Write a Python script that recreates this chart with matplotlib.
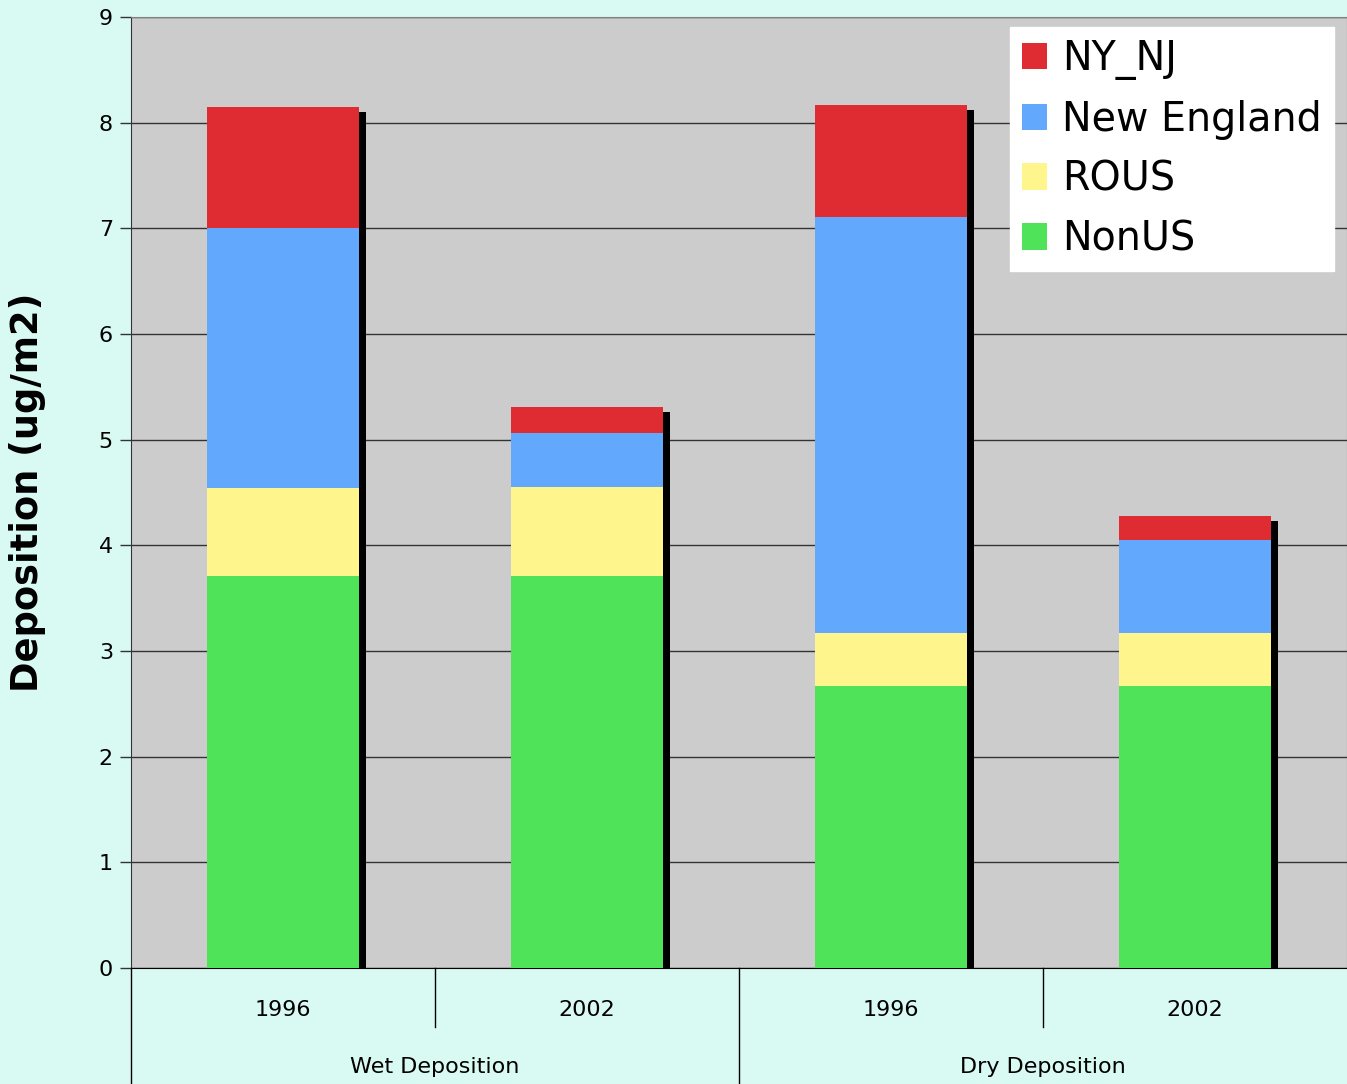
import matplotlib.pyplot as plt
import numpy as np

# data (ug/m2), stacked bottom to top
groups = ['Wet Deposition', 'Dry Deposition']
years = ['1996', '2002', '1996', '2002']
nonus = [3.71, 3.71, 2.67, 2.67]
rous = [0.83, 0.84, 0.50, 0.50]
new_england = [2.46, 0.51, 3.94, 0.88]
ny_nj = [1.15, 0.25, 1.06, 0.23]

series = [('NonUS', nonus, '#4fe35a'),
          ('ROUS', rous, '#fff58d'),
          ('New England', new_england, '#62a8fd'),
          ('NY_NJ', ny_nj, '#de2c32')]

W, H = 1347, 1084
fig = plt.figure(figsize=(W / 100, H / 100), dpi=100, facecolor='#d9faf3')
ax = fig.add_axes([131 / W, (H - 968) / H, (W - 131) / W, (968 - 17) / H])
ax.set_facecolor('#cccccc')

x = np.arange(len(years))
width = 0.5

# drop shadow behind each stack
totals = np.sum([s[1] for s in series], axis=0)
ax.bar(x + 0.023, totals - 0.047, width, color='black', zorder=2, align='center')

bottom = np.zeros(len(years))
handles = {}
for name, vals, col in series:
    b = ax.bar(x, vals, width, bottom=bottom, color=col, zorder=3, label=name)
    handles[name] = b
    bottom += np.array(vals)

ax.set_xlim(-0.5, 3.5)
ax.set_ylim(0, 9)
ax.set_yticks(range(10))
ax.tick_params(axis='y', labelsize=16, length=8, width=1, direction='out', pad=5,
               color='#333333')
ax.set_xticks([])
ax.yaxis.grid(True, color='#333333', linewidth=1, zorder=1)
ax.set_axisbelow(True)
for s in ['top', 'right']:
    ax.spines[s].set_color('#808080')
ax.spines['left'].set_color('#333333')
ax.spines['bottom'].set_color('black')

ax.set_ylabel('Deposition (ug/m2)', fontsize=26.5, fontweight='bold', va='center')
ax.yaxis.set_label_coords(-0.085, 0.5)

# two-level category axis below the plot
trans = ax.get_xaxis_transform()
for xs in [0.5, 2.5]:
    ax.plot([xs, xs], [0, -0.062], color='black', lw=1, transform=trans, clip_on=False)
for xs in [-0.5, 1.5]:
    ax.plot([xs, xs], [0, -0.13], color='black', lw=1, transform=trans, clip_on=False)
for i, yr in enumerate(years):
    ax.text(i, -0.044, yr, ha='center', va='center', fontsize=16, transform=trans)
for j, g in enumerate(groups):
    ax.text(2 * j + 0.5, -0.104, g, ha='center', va='center', fontsize=16, transform=trans)

order = ['NY_NJ', 'New England', 'ROUS', 'NonUS']
leg = ax.legend([handles[n] for n in order], order, loc='upper right',
                bbox_to_anchor=(1334 / W, 1 - 27 / H), bbox_transform=fig.transFigure,
                fontsize=28.5, frameon=True, fancybox=False,
                handlelength=0.65, handleheight=0.65, handletextpad=0.38,
                borderpad=0.3, labelspacing=0.5, borderaxespad=0)
leg.get_frame().set_facecolor('white')
leg.get_frame().set_edgecolor('white')
leg.get_frame().set_alpha(1)

fig.savefig('out.png', dpi=100, facecolor=fig.get_facecolor())
